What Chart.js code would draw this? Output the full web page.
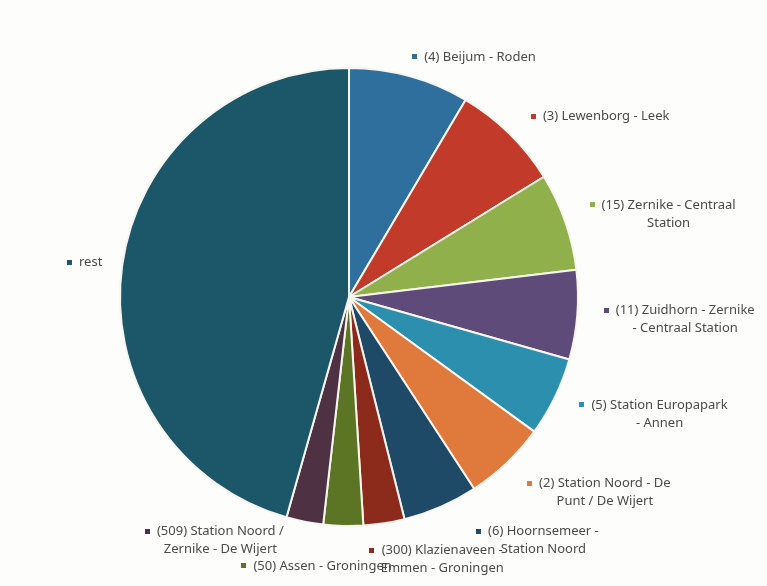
<!DOCTYPE html>
<html>
<head>
  <meta charset="utf-8">
  <script src="https://cdn.jsdelivr.net/npm/chart.js"></script>
  <style>
    html, body {
      margin: 0;
      padding: 0;
      background-color: #fdfdfc;
    }
    #wrap {
      width: 767px;
      height: 586px;
    }
  </style>
</head>
<body>
  <div id="wrap">
    <canvas id="myChart" width="767" height="586"></canvas>
  </div>

  <script>
  // slice names (already wrapped the way the labels show them)
  var categories = [
    ['(4) Beijum - Roden'],
    ['(3) Lewenborg - Leek'],
    ['(15) Zernike - Centraal', 'Station'],
    ['(11) Zuidhorn - Zernike', '- Centraal Station'],
    ['(5) Station Europapark', '- Annen'],
    ['(2) Station Noord - De', 'Punt / De Wijert'],
    ['(6) Hoornsemeer -', 'Station Noord'],
    ['(300) Klazienaveen -', 'Emmen - Groningen'],
    ['(50) Assen - Groningen'],
    ['(509) Station Noord /', 'Zernike - De Wijert'],
    ['rest']
  ];

  // share of each line (percent)
  var shares = [8.5, 7.7, 6.9, 6.3, 5.6, 5.8, 5.3, 2.9, 2.8, 2.6, 45.6];

  var colors = [
    '#2f6f9d', '#c23b2a', '#8fb04a', '#5e4b79', '#2c8fae', '#e07a3c',
    '#1f4a67', '#8c2a1c', '#5b7524', '#4e3244', '#1c5769'
  ];

  // nudges for the labels, Excel had them dragged around a bit
  var labelOffsets = [
    [0, 0], [10, -3], [8, -10], [9, -6], [9, -1], [9, 6],
    [30, 6], [-16, 7], [49, 20], [-17, -10], [0, 0]
  ];

  var sliceLabels = {
    id: 'sliceLabels',
    afterDatasetsDraw: function(chart, args, opts) {
      var ctx = chart.ctx;
      var meta = chart.getDatasetMeta(0);
      ctx.save();
      ctx.font = opts.font;
      ctx.textBaseline = 'middle';
      meta.data.forEach(function(arc, i) {
        var p = arc.getProps(['x', 'y', 'startAngle', 'endAngle', 'outerRadius'], true);
        var mid = (p.startAngle + p.endAngle) / 2;
        var r = p.outerRadius + opts.gap;
        var ax = p.x + Math.cos(mid) * r;
        var ay = p.y + Math.sin(mid) * r;
        var lines = categories[i];
        var tw = Math.max.apply(null, lines.map(function(l) { return ctx.measureText(l).width; }));
        var left;
        if (ax < p.x) {
          left = ax - opts.keyPad - tw;
        } else {
          left = ax - 2.5;
        }
        left += labelOffsets[i][0];
        var top = ay + labelOffsets[i][1];

        ctx.fillStyle = colors[i];
        ctx.fillRect(Math.round(left), Math.round(top - 2.5), 5, 5);

        ctx.fillStyle = opts.color;
        ctx.textAlign = 'center';
        var cx = left + opts.keyPad + tw / 2;
        lines.forEach(function(l, k) {
          ctx.fillText(l, cx, top + k * opts.lineHeight);
        });
      });
      ctx.restore();
    }
  };

  var ctx = document.getElementById('myChart').getContext('2d');
  var myChart = new Chart(ctx, {
    type: 'pie',
    data: {
      labels: categories,
      datasets: [{
        data: shares,
        backgroundColor: colors,
        borderColor: '#f7f5ee',
        borderWidth: 2
      }]
    },
    options: {
      responsive: false,
      animation: false,
      layout: {
        padding: { left: 119, right: 188, top: 67, bottom: 59 }
      },
      plugins: {
        legend: { display: false },
        tooltip: { enabled: false },
        sliceLabels: {
          font: '13px "Noto Sans"',
          color: '#4a4a4a',
          gap: 20,
          keyPad: 12,
          lineHeight: 18
        }
      }
    },
    plugins: [sliceLabels]
  });
  </script>
</body>
</html>
